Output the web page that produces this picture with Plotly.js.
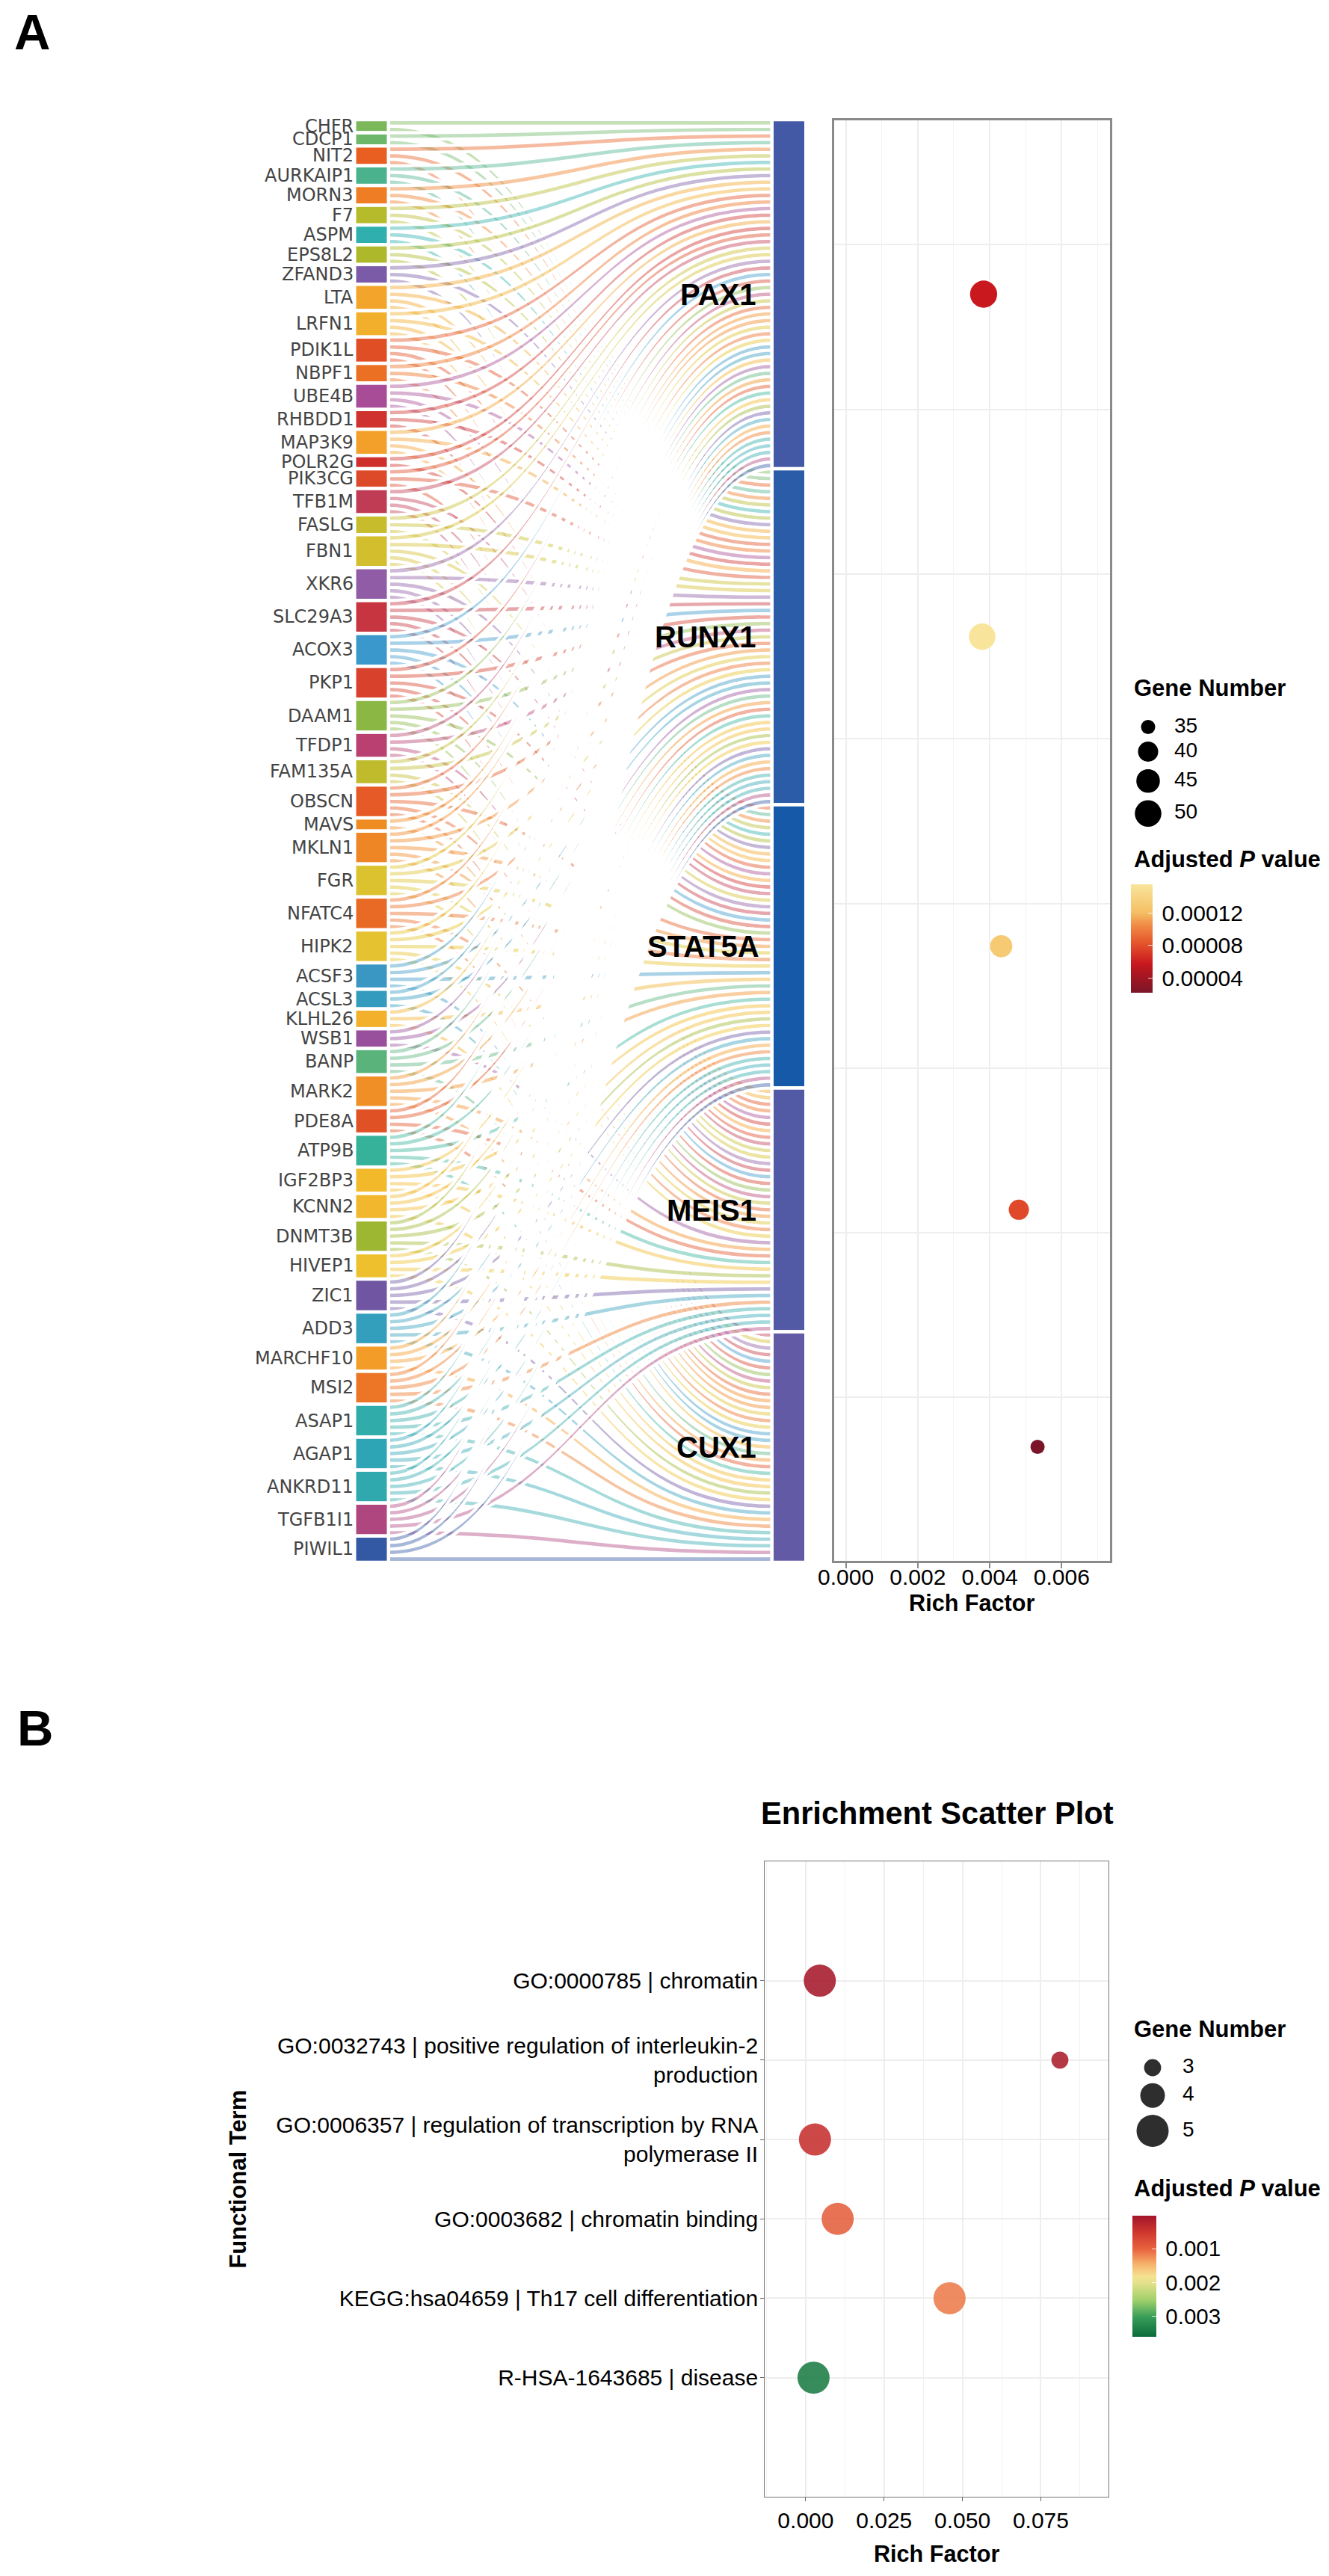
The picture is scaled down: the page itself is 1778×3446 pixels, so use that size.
<!DOCTYPE html>
<html>
<head>
<meta charset="utf-8">
<script src="https://cdn.plot.ly/plotly-3.0.1.min.js"></script>
<style>html,body{margin:0;padding:0;background:#fff}#chart{width:1778px;height:3446px}</style>
</head>
<body>
<div id="chart"></div>
<script>
// ---------- Panel A: gene -> transcription factor links ----------
const genes = ["CHFR","CDCP1","NIT2","AURKAIP1","MORN3","F7","ASPM","EPS8L2","ZFAND3","LTA","LRFN1","PDIK1L","NBPF1","UBE4B","RHBDD1","MAP3K9","POLR2G","PIK3CG","TFB1M","FASLG","FBN1","XKR6","SLC29A3","ACOX3","PKP1","DAAM1","TFDP1","FAM135A","OBSCN","MAVS","MKLN1","FGR","NFATC4","HIPK2","ACSF3","ACSL3","KLHL26","WSB1","BANP","MARK2","PDE8A","ATP9B","IGF2BP3","KCNN2","DNMT3B","HIVEP1","ZIC1","ADD3","MARCHF10","MSI2","ASAP1","AGAP1","ANKRD11","TGFB1I1","PIWIL1"];
const geneColors = ["#7ab85a","#6cb76a","#e95f22","#4ab38d","#ee7d24","#b5bb2b","#2fb0ae","#adb92a","#7b5ba8","#f2a52a","#f2af2c","#e04e26","#ec7023","#a84c97","#cf322f","#f2a029","#cf2f2a","#dd4a2a","#c03c55","#c7bd2c","#d3bf2e","#8f5ca5","#c73640","#3b98cc","#d8412c","#8bb845","#b94071","#c0bb2c","#e55a26","#ee8c22","#ee8626","#dcc22f","#e96a24","#e5c22f","#3a97c4","#339bbd","#f2b02b","#984f9c","#59b37a","#f08f25","#e05226","#36b29a","#f2b92a","#f2b72c","#9db733","#eec02d","#6f55a2","#349fbc","#f39c28","#ec7626","#30acaa","#2ea5b5","#30a9ae","#b0467f","#3359a5"];
// P = PAX1, R = RUNX1, S = STAT5A, M = MEIS1, C = CUX1
const geneTargets = ["PR","PR","PRS","PRS","PRS","PRS","PRS","PRS","PRS","PRSM","PRSM","PRSM","PRM","PRSM","PRM","PRSM","PS","PRM","PSMC","PRM","PRSMC","PRSMC","PRSMC","PRSMC","PRSMC","PRSMC","PRMC","PRMC","PRSMC","PC","PRSMC","PRSMC","PRSMC","PRSMC","PRSC","PRC","PSC","PRM","PRSC","PRSMC","PRMC","PRSMC","RSMC","PRSC","PRSMC","RSMC","PRSMC","PRSMC","PRSC","PRSMC","PRSMC","PRSMC","PRSMC","PRSMC","PRSC"];
const tfNames = ["PAX1","RUNX1","STAT5A","MEIS1","CUX1"];
const tfKeys = ["P","R","S","M","C"];
const tfColors = ["#4459a6","#2a5ca8","#1559a8","#5259a5","#625aa5"];

// ---------- Panel A: rich factor dots ----------
const tfRichFactor = [0.00383,0.00379,0.00432,0.00481,0.00533];
const tfGeneNumber = [51,50,43,40,35];
const tfAdjP = [0.000058,0.000155,0.00013,0.000077,0.0000216];
const sizeBreaksA = [35,40,45,50];
const sizeDiametersA = [19,27,31.5,35.5];
const pTicksA = [0.00004,0.00008,0.00012];
const pLabelsA = ["0.00004","0.00008","0.00012"];

// ---------- Panel B: enrichment scatter ----------
const terms = ["GO:0000785 | chromatin","GO:0032743 | positive regulation of interleukin-2<br>production","GO:0006357 | regulation of transcription by RNA<br>polymerase II","GO:0003682 | chromatin binding","KEGG:hsa04659 | Th17 cell differentiation","R-HSA-1643685 | disease"];
const termRichFactor = [0.0045,0.0811,0.00296,0.0102,0.0459,0.0025];
const termGeneNumber = [5,3,5,5,5,5];
const termAdjP = [0.00006,0.00012,0.00042,0.00095,0.00115,0.0034];
const sizeBreaksB = [3,4,5];
const sizeDiametersB = [22.8,33,43];
const pTicksB = [0.001,0.002,0.003];
const pLabelsB = ["0.001","0.002","0.003"];

// ---------- Page geometry ----------
const W = 1778, H = 3446;
const px = v => v / W;
const py = v => 1 - v / H;
const FONT = '"Liberation Sans", Arial, sans-serif';
const GRID = "#eeeeee";
const sankeyBox = {l:474.25, r:1078.25, t:160, b:2090};
const thickness = 45.5;
const THIN = "\u2009";

// Sankey nodes and links come from the gene lists
const totalLinks = geneTargets.reduce((s,g)=>s+g.length,0);
const sources = [], targets = [], linkColors = [];
const alpha = (hex,a)=>{const n=parseInt(hex.slice(1),16);return `rgba(${n>>16},${(n>>8)&255},${n&255},${a})`;};
geneTargets.forEach((g,i)=>{
  for(const k of g){
    sources.push(i);
    targets.push(genes.length + tfKeys.indexOf(k));
    linkColors.push(alpha(geneColors[i],0.43));
  }
});
const centerUnits = counts => {let c=0;return counts.map(n=>{const m=c+n/2;c+=n;return m;});};
const geneCenters = centerUnits(geneTargets.map(g=>g.length));
const tfCounts = tfKeys.map(k=>geneTargets.filter(g=>g.includes(k)).length);
const tfCenters = centerUnits(tfCounts);
const unitPx = (sankeyBox.b-sankeyBox.t)/totalLinks;
const unitToPage = u => sankeyBox.t + u*unitPx;
const xFrac = (thickness/2)/(sankeyBox.r-sankeyBox.l);

const interp = (xs,ys,x)=>{
  let i = 0;
  while(i < xs.length-2 && x > xs[i+1]) i++;
  return ys[i] + (x-xs[i])*(ys[i+1]-ys[i])/(xs[i+1]-xs[i]);
};
const stackRows = (diams,pad)=>{const r=[0];for(let i=1;i<diams.length;i++)r.push(r[i-1]+(diams[i-1]+diams[i])/2+pad);return r;};

const sankey = {
  type:"sankey", arrangement:"fixed", hoverinfo:"none",
  domain:{x:[px(sankeyBox.l),px(sankeyBox.r)], y:[py(sankeyBox.b),py(sankeyBox.t)]},
  node:{
    label:genes.concat(tfNames).map(()=>""),
    color:geneColors.concat(tfColors),
    pad:0, thickness:thickness,
    line:{color:"#ffffff",width:4.5},
    x:genes.map(()=>xFrac).concat(tfNames.map(()=>1-xFrac)),
    y:geneCenters.map(c=>c/totalLinks).concat(tfCenters.map(c=>c/totalLinks)),
    hoverinfo:"none"
  },
  link:{source:sources,target:targets,value:sources.map(()=>1),color:linkColors,
        line:{color:"#ffffff",width:4.1},hoverinfo:"none"}
};

const scaleA = [[0,"#7a1529"],[0.21,"#b5161f"],[0.27,"#c9181f"],[0.45,"#e4532b"],[0.62,"#f08a45"],[0.74,"#f5bf64"],[1,"#f8e59b"]];
const dotsA = {
  type:"scatter", mode:"markers", xaxis:"x", yaxis:"y", showlegend:false, hoverinfo:"none",
  x:tfRichFactor, y:tfCenters,
  marker:{size:tfGeneNumber.map(n=>interp(sizeBreaksA,sizeDiametersA,n)), color:tfAdjP,
    colorscale:scaleA, cmin:0.0000216, cmax:0.000155, opacity:1, line:{width:0},
    showscale:true,
    colorbar:{xref:"paper",yref:"paper",x:px(1513),xanchor:"left",xpad:0,y:py(1255.5),yanchor:"middle",ypad:0,
      lenmode:"pixels",len:145,thicknessmode:"pixels",thickness:29,outlinewidth:0,
      tickmode:"array",tickvals:pTicksA,ticktext:pLabelsA.map(t=>THIN+t),ticks:"inside",ticklen:6,tickcolor:"rgba(255,255,255,0.8)",tickwidth:1,
      tickfont:{family:FONT,size:30,color:"#000"}}}
};

const rowsA = stackRows(sizeDiametersA,10);
const legendA = {
  type:"scatter", mode:"markers", xaxis:"x3", yaxis:"y3", showlegend:false, hoverinfo:"none",
  x:sizeBreaksA.map(()=>20), y:rowsA,
  marker:{size:sizeDiametersA,color:"#000",opacity:1,line:{width:0}}
};
const legendAText = {
  type:"scatter", mode:"text", xaxis:"x3", yaxis:"y3", showlegend:false, hoverinfo:"none",
  x:sizeBreaksA.map(()=>55), y:rowsA, text:sizeBreaksA.map(String), textposition:"middle right",
  textfont:{family:FONT,size:28,color:"#000"}
};

const scaleB = [[0,"#0b6b3a"],[0.167,"#3a9f5a"],[0.3,"#9fcf6a"],[0.44,"#e2e08a"],[0.5,"#f5e291"],[0.6,"#f6b26b"],[0.72,"#e9653f"],[0.85,"#d23a2f"],[1,"#a3162a"]];
const cTop = 0.00003, cBottom = 0.0036;
const dotsB = {
  type:"scatter", mode:"markers", xaxis:"x2", yaxis:"y2", showlegend:false, hoverinfo:"none",
  x:termRichFactor, y:terms,
  marker:{size:termGeneNumber.map(n=>interp(sizeBreaksB,sizeDiametersB,n)), color:termAdjP.map(p=>-p),
    colorscale:scaleB, cmin:-cBottom, cmax:-cTop, opacity:0.88, line:{width:0},
    showscale:true,
    colorbar:{xref:"paper",yref:"paper",x:px(1514.6),xanchor:"left",xpad:0,y:py(3045),yanchor:"middle",ypad:0,
      lenmode:"pixels",len:162,thicknessmode:"pixels",thickness:32,outlinewidth:0,
      tickmode:"array",tickvals:pTicksB.map(p=>-p),ticktext:pLabelsB.map(t=>THIN+t),ticks:"inside",ticklen:6,tickcolor:"rgba(255,255,255,0.8)",tickwidth:1,
      tickfont:{family:FONT,size:29.5,color:"#000"}}}
};

const rowsB = stackRows(sizeDiametersB,9.3);
const legendB = {
  type:"scatter", mode:"markers", xaxis:"x4", yaxis:"y4", showlegend:false, hoverinfo:"none",
  x:sizeBreaksB.map(()=>26), y:rowsB,
  marker:{size:sizeDiametersB,color:"#000",opacity:0.82,line:{width:0}}
};
const legendBText = {
  type:"scatter", mode:"text", xaxis:"x4", yaxis:"y4", showlegend:false, hoverinfo:"none",
  x:sizeBreaksB.map(()=>66), y:rowsB, text:sizeBreaksB.map(String), textposition:"middle right",
  textfont:{family:FONT,size:28,color:"#000"}
};

// ---------- Annotations ----------
const ann = (text,x,y,opts)=>Object.assign({text,x:px(x),y:py(y),xref:"paper",yref:"paper",showarrow:false,
  xanchor:"left",yanchor:"middle",borderpad:0},opts||{});
const annotations = [];
genes.forEach((g,i)=>annotations.push(ann(g,474,unitToPage(geneCenters[i]),{xanchor:"right",
  font:{family:'"DejaVu Sans", sans-serif',size:24,color:"#444444"}})));
const tfLabelEnd = [1013,1013,1017,1013,1013];
tfNames.forEach((t,i)=>annotations.push(ann("<b>"+t+"</b>",tfLabelEnd[i],unitToPage(tfCenters[i]),{xanchor:"right",
  font:{family:FONT,size:40,color:"#000"}})));
const panelFont = {family:FONT,size:67,color:"#000"};
annotations.push(ann("<b>A</b>",18,43,{font:panelFont}));
annotations.push(ann("<b>B</b>",22,2311,{font:panelFont}));
const legendTitle = {family:FONT,size:31,color:"#000"};
annotations.push(ann("<b>Gene Number</b>",1516,920,{font:legendTitle}));
annotations.push(ann("<b>Adjusted <i>P</i> value</b>",1516,1149,{font:legendTitle}));
annotations.push(ann("<b>Gene Number</b>",1516,2714,{font:legendTitle}));
annotations.push(ann("<b>Adjusted <i>P</i> value</b>",1516,2927,{font:legendTitle}));

const hidden = {visible:false,showgrid:false,zeroline:false,fixedrange:true};
const tickFont = {family:FONT,size:30,color:"#000"};
const titleFont = {family:FONT,size:30.6,color:"#000",weight:"bold"};

const layout = {
  width:W,height:H,margin:{l:0,r:0,t:0,b:0},paper_bgcolor:"#fff",plot_bgcolor:"#fff",showlegend:false,
  font:{family:FONT,color:"#000"},
  title:{text:"<b>Enrichment Scatter Plot</b>",x:px(1018),xref:"paper",xanchor:"left",y:py(2425),yref:"paper",yanchor:"middle",
    font:{family:FONT,size:41.6,color:"#000"}},
  xaxis:{domain:[px(1115.6),px(1484.8)],range:[-0.000333,0.00734],anchor:"y",
    tickmode:"array",tickvals:[0,0.002,0.004,0.006],ticktext:["0.000","0.002","0.004","0.006"],
    showgrid:true,gridcolor:GRID,gridwidth:2,zeroline:false,
    minor:{dtick:0.001,showgrid:true,gridcolor:"#f3f3f3",gridwidth:1.2,ticks:""},
    showline:true,linecolor:"#8a8a8a",linewidth:2.6,mirror:true,ticks:"outside",ticklen:7,tickwidth:2.4,tickcolor:"#8a8a8a",
    ticklabelstandoff:-14,
    tickfont:tickFont,title:{text:"<b>Rich Factor</b>",font:titleFont,standoff:9}},
  yaxis:{domain:[py(2088),py(160.7)],range:[218.8,0.08],anchor:"x",
    tick0:19,dtick:25,tickmode:"linear",showticklabels:false,ticks:"",
    showgrid:true,gridcolor:GRID,gridwidth:2,zeroline:false,
    showline:true,linecolor:"#8a8a8a",linewidth:2.6,mirror:true},
  xaxis2:{domain:[px(1023.3),px(1483)],range:[-0.01302,0.0966],anchor:"y2",
    tickmode:"array",tickvals:[0,0.025,0.05,0.075],ticktext:["0.000","0.025","0.050","0.075"],
    showgrid:true,gridcolor:GRID,gridwidth:2,zeroline:false,
    minor:{dtick:0.0125,showgrid:true,gridcolor:"#f1f1f1",gridwidth:1.2,ticks:""},
    showline:true,linecolor:"#777",linewidth:1.3,mirror:true,ticks:"outside",ticklen:5,tickwidth:1.3,tickcolor:"#666",
    tickfont:tickFont,title:{text:"<b>Rich Factor</b>",font:titleFont,standoff:18}},
  yaxis2:{domain:[py(3340),py(2490.3)],range:[6.5,-1.5],anchor:"x2",type:"category",categoryorder:"array",categoryarray:terms,
    showgrid:true,gridcolor:GRID,gridwidth:2,zeroline:false,
    showline:true,linecolor:"#777",linewidth:1.3,mirror:true,ticks:"outside",ticklen:5,tickwidth:1.3,tickcolor:"#666",
    ticklabelstandoff:-3,
    tickfont:{family:FONT,size:30,color:"#000"},
    title:{text:"<b>Functional Term</b>",font:{family:FONT,size:31,color:"#000",weight:"bold"},standoff:30}},
  xaxis3:Object.assign({domain:[px(1516),px(1616)],range:[0,100],anchor:"y3"},hidden),
  yaxis3:Object.assign({domain:[py(1110),py(950)],range:[137.5,-22.5],anchor:"x3"},hidden),
  xaxis4:Object.assign({domain:[px(1516),px(1616)],range:[0,100],anchor:"y4"},hidden),
  yaxis4:Object.assign({domain:[py(2880),py(2740)],range:[114,-26],anchor:"x4"},hidden),
  annotations:annotations
};

Plotly.newPlot("chart",[sankey,dotsA,legendA,legendAText,dotsB,legendB,legendBText],layout,{displayModeBar:false,staticPlot:false,responsive:false});
</script>
</body>
</html>
